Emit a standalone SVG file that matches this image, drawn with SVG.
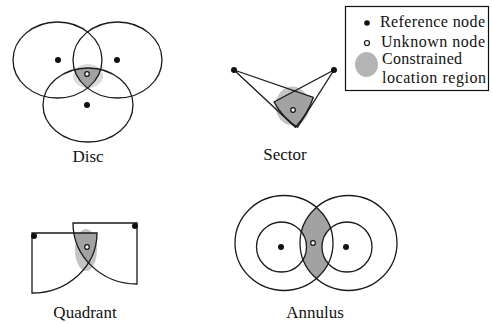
<svg xmlns="http://www.w3.org/2000/svg" width="492" height="323" viewBox="0 0 492 323">
<style>
.ln{fill:none;stroke:#1a1a1a;stroke-width:1.3}
.ref{fill:#111}
.unk{fill:#fff;stroke:#111;stroke-width:1.2}
.dk{fill:#a2a2a2}
.lt{fill:#c4c4c4}
.lbl{font-family:"Liberation Serif","Times New Roman",serif;font-size:17px;fill:#111}
.lg{font-size:16px}
</style>
<defs>
<clipPath id="dL"><ellipse cx="57.5" cy="60" rx="44.5" ry="38"/></clipPath>
<clipPath id="dR"><ellipse cx="117.5" cy="60" rx="44.5" ry="38"/></clipPath>
<clipPath id="sL"><path d="M234,70 L313.4,97.3 A84,84 0 0,1 295.4,127.3 Z"/></clipPath>
<clipPath id="qL"><path d="M32,233 H97 A65,60 0 0,1 32,293 Z"/></clipPath>
<clipPath id="aL"><ellipse cx="284" cy="243" rx="49" ry="47.5"/></clipPath>
</defs>
<rect width="492" height="323" fill="#fff"/>

<g id="disc">
<ellipse class="lt" cx="88" cy="76" rx="15" ry="12" opacity="0.6"/>
<g clip-path="url(#dL)"><g clip-path="url(#dR)"><ellipse class="dk" cx="88" cy="105" rx="45" ry="37"/></g></g>
<ellipse class="ln" cx="57.5" cy="60" rx="44.5" ry="38"/>
<ellipse class="ln" cx="117.5" cy="60" rx="44.5" ry="38"/>
<ellipse class="ln" cx="88" cy="105" rx="45" ry="37"/>
<circle class="ref" cx="58" cy="60" r="3"/>
<circle class="ref" cx="117" cy="60" r="3"/>
<circle class="ref" cx="87" cy="105" r="3"/>
<circle class="unk" cx="87" cy="74" r="2.3"/>
<text class="lbl" x="88" y="162" text-anchor="middle">Disc</text>
</g>

<g id="sector">
<ellipse class="lt" cx="292.5" cy="106" rx="17" ry="19.5"/>
<g clip-path="url(#sL)"><path class="dk" d="M334,70 L274,101.9 A68,68 0 0,0 297.5,127.3 Z"/></g>
<path class="ln" d="M234,70 L313.4,97.3 A84,84 0 0,1 295.4,127.3 Z"/>
<path class="ln" d="M334,70 L274,101.9 A68,68 0 0,0 297.5,127.3 Z"/>
<circle class="ref" cx="234" cy="70" r="3"/>
<circle class="ref" cx="334" cy="70" r="3"/>
<circle class="unk" cx="293" cy="110" r="2.3"/>
<text class="lbl" x="285" y="160" text-anchor="middle">Sector</text>
</g>

<g id="quadrant">
<ellipse class="lt" cx="86" cy="250" rx="11" ry="21"/>
<g clip-path="url(#qL)"><path class="dk" d="M137,223 V284 A64,61 0 0,1 73,223 Z"/></g>
<path class="ln" d="M32,233 H97 A65,60 0 0,1 32,293 Z"/>
<path class="ln" d="M137,223 V284 A64,61 0 0,1 73,223 Z"/>
<circle class="ref" cx="34" cy="236" r="3"/>
<circle class="ref" cx="135" cy="226" r="3"/>
<circle class="unk" cx="87" cy="247" r="2.3"/>
<text class="lbl" x="85" y="318" text-anchor="middle">Quadrant</text>
</g>

<g id="annulus">
<g clip-path="url(#aL)">
<ellipse class="dk" cx="348.5" cy="243" rx="48.5" ry="47.5"/>
<circle fill="#fff" cx="281.5" cy="247" r="25"/>
<circle fill="#fff" cx="347" cy="247" r="25"/>
</g>
<ellipse class="ln" cx="284" cy="243" rx="49" ry="47.5"/>
<ellipse class="ln" cx="348.5" cy="243" rx="48.5" ry="47.5"/>
<circle class="ln" cx="281.5" cy="247" r="25"/>
<circle class="ln" cx="347" cy="247" r="25"/>
<circle class="ref" cx="281" cy="247" r="3"/>
<circle class="ref" cx="346" cy="247" r="3"/>
<circle class="unk" cx="313" cy="243" r="2.3"/>
<text class="lbl" x="315" y="318" text-anchor="middle">Annulus</text>
</g>

<g id="legend">
<rect x="345.5" y="6.5" width="143" height="84" fill="#fff" stroke="#111" stroke-width="1.2"/>
<circle class="ref" cx="367" cy="23" r="2.8"/>
<circle class="unk" cx="367" cy="43" r="2.5"/>
<ellipse cx="366.5" cy="64.5" rx="11.5" ry="12.5" fill="#b4b4b4"/>
<text class="lbl lg" x="380" y="27" textLength="105">Reference node</text>
<text class="lbl lg" x="381" y="47" textLength="104">Unknown node</text>
<text class="lbl lg" x="382" y="63.5" textLength="80">Constrained</text>
<text class="lbl lg" x="382" y="82.5" textLength="104">location region</text>
</g>
</svg>
